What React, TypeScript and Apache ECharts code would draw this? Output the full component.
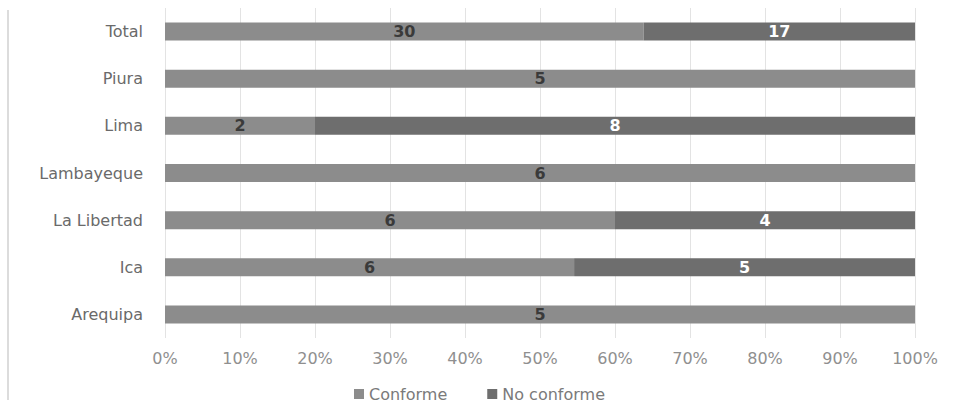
import React, { useEffect, useRef } from "react";
import * as echarts from "echarts";

// Regions, listed bottom to top as they appear on the category axis
const regions = ["Arequipa", "Ica", "La Libertad", "Lambayeque", "Lima", "Piura", "Total"];
const conforme = [5, 6, 6, 6, 2, 5, 30];
const noConforme = [0, 5, 4, 0, 8, 0, 17];
const percentTicks = [0, 10, 20, 30, 40, 50, 60, 70, 80, 90, 100];

const FONT = "DejaVu Sans";

export default function App() {
  const ref = useRef<HTMLDivElement>(null);

  useEffect(() => {
    document.body.style.margin = "0";
    const chart = echarts.init(ref.current!, null, { renderer: "svg" });

    const totals = regions.map((_, i) => conforme[i] + noConforme[i]);
    const share = (arr: number[]) => arr.map((v, i) => (totals[i] ? (v / totals[i]) * 100 : 0));

    chart.setOption({
      animation: false,
      backgroundColor: "#ffffff",
      grid: { left: 165, right: 38, top: 8, height: 330 },
      legend: {
        left: 354,
        top: 386,
        padding: 0,
        itemWidth: 10,
        itemHeight: 10,
        itemGap: 40,
        icon: "rect",
        textStyle: { fontFamily: FONT, fontSize: 16, color: "#7a7a7a" },
        data: ["Conforme", "No conforme"],
      },
      xAxis: {
        type: "value",
        min: percentTicks[0],
        max: percentTicks[percentTicks.length - 1],
        interval: 10,
        axisLine: { show: false },
        axisTick: { show: false },
        splitLine: { show: true, lineStyle: { color: "#e3e3e3", width: 1 } },
        axisLabel: {
          formatter: "{value}%",
          fontFamily: FONT,
          fontSize: 16,
          color: "#8f8f8f",
          margin: 12,
        },
      },
      yAxis: {
        type: "category",
        data: regions,
        axisLine: { show: false },
        axisTick: { show: false },
        axisLabel: { fontFamily: FONT, fontSize: 16, color: "#6a6a6a", margin: 22 },
      },
      graphic: [
        {
          type: "line",
          shape: { x1: 8, y1: 10, x2: 8, y2: 400 },
          style: { stroke: "#dcdcdc", lineWidth: 2 },
          silent: true,
        },
      ],
      series: [
        {
          name: "Conforme",
          type: "bar",
          stack: "total",
          barWidth: 18,
          itemStyle: { color: "#8c8c8c" },
          data: share(conforme),
          label: {
            show: true,
            position: "inside",
            fontFamily: FONT,
            fontSize: 16,
            fontWeight: "bold",
            color: "#3a3a3a",
            formatter: (p: any) => (conforme[p.dataIndex] ? String(conforme[p.dataIndex]) : ""),
          },
        },
        {
          name: "No conforme",
          type: "bar",
          stack: "total",
          barWidth: 18,
          itemStyle: { color: "#6e6e6e" },
          data: share(noConforme),
          label: {
            show: true,
            position: "inside",
            fontFamily: FONT,
            fontSize: 16,
            fontWeight: "bold",
            color: "#ffffff",
            formatter: (p: any) => (noConforme[p.dataIndex] ? String(noConforme[p.dataIndex]) : ""),
          },
        },
      ],
    });

    return () => chart.dispose();
  }, []);

  return <div ref={ref} style={{ width: 953, height: 404 }} />;
}
